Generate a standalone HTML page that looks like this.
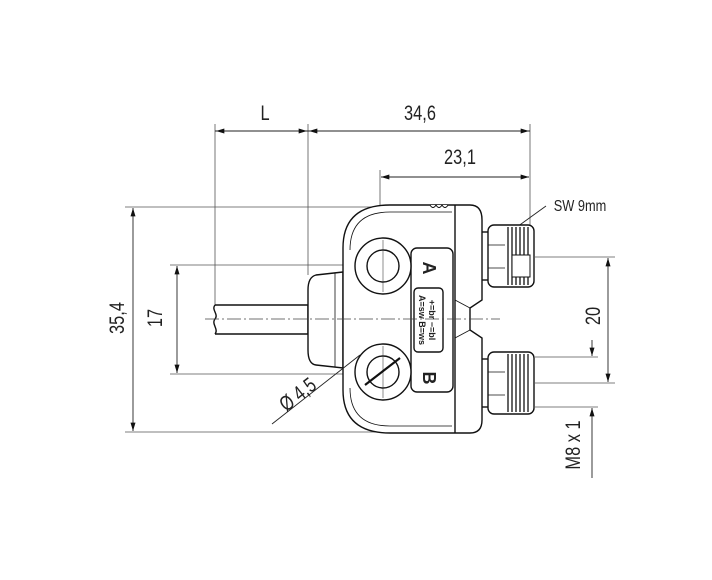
<!DOCTYPE html>
<html><head><meta charset="utf-8"><style>
html,body{margin:0;padding:0;background:#fff;width:712px;height:580px;overflow:hidden}
svg text{font-family:"Liberation Sans Narrow","Liberation Sans",sans-serif;fill:#222}
</style></head><body>
<svg width="712" height="580" viewBox="0 0 712 580" xmlns="http://www.w3.org/2000/svg">
<defs>
<marker id="a" viewBox="0 0 10 6" refX="10" refY="3" markerWidth="14" markerHeight="5" markerUnits="userSpaceOnUse" orient="auto-start-reverse"><path d="M0,0L10,3L0,6z" fill="#111"/></marker>
</defs>
<g stroke="#555" stroke-width="0.8" fill="none">
<line x1="215" y1="124" x2="215" y2="306"/>
<line x1="308" y1="124" x2="308" y2="275"/>
<line x1="530" y1="124" x2="530" y2="228"/>
<line x1="380" y1="170" x2="380" y2="242"/>
<line x1="125" y1="207" x2="460" y2="207"/>
<line x1="125" y1="432" x2="460" y2="432"/>
<line x1="170" y1="265" x2="383" y2="265"/>
<line x1="170" y1="374" x2="383" y2="374"/>
<line x1="535" y1="257" x2="615" y2="257"/>
<line x1="535" y1="383" x2="615" y2="383"/>
<line x1="535" y1="357" x2="598" y2="357"/>
<line x1="535" y1="407" x2="598" y2="407"/>
</g>
<g stroke="#222" stroke-width="0.9" fill="none">
<line x1="215" y1="131" x2="530" y2="131"/>
<line x1="232" y1="131" x2="216" y2="131" marker-end="url(#a)"/>
<line x1="292" y1="131" x2="307" y2="131" marker-end="url(#a)"/>
<line x1="325" y1="131" x2="309" y2="131" marker-end="url(#a)"/>
<line x1="510" y1="131" x2="529" y2="131" marker-end="url(#a)"/>
<line x1="381" y1="177" x2="529" y2="177" marker-start="url(#a)" marker-end="url(#a)"/>
<line x1="133" y1="208" x2="133" y2="431" marker-start="url(#a)" marker-end="url(#a)"/>
<line x1="177" y1="266" x2="177" y2="373" marker-start="url(#a)" marker-end="url(#a)"/>
<line x1="608" y1="258" x2="608" y2="382" marker-start="url(#a)" marker-end="url(#a)"/>
<line x1="592" y1="478" x2="592" y2="408" marker-end="url(#a)"/>
<line x1="592" y1="340" x2="592" y2="356" marker-end="url(#a)"/>
<line x1="510" y1="232" x2="546" y2="206"/>
</g>
<g stroke="#111" stroke-width="1.4" fill="#fff">
<path d="M215,305 L308,305 L308,334 L215,334" fill="#fff"/>
<path d="M215,305 C211,310 219,314 215,319 C211,324 219,329 215,334" fill="none"/>
<path d="M343,272 L316,275 Q308,277 308,290 L308,350 Q308,364 316,365 L343,368 Z"/>
<line x1="335" y1="273" x2="335" y2="367" stroke-width="0.8"/>
<path d="M390,205 L470,205 Q482,205 482,220 L482,300 L470,308 L470,330 L482,338 L482,420 Q482,433 470,433 L390,433 Q343,433 343,390 L343,248 Q343,205 390,205 Z"/>
<line x1="455" y1="205" x2="455" y2="433"/>
<path d="M350,250 Q350,212 390,212 L452,212" fill="none" stroke-width="0.8"/>
<path d="M350,388 Q350,426 390,426 L452,426" fill="none" stroke-width="0.8"/>
<path d="M430,205 q3,5 6,0 q3,5 6,0 q3,5 6,0" fill="#fff" stroke-width="1"/>
<path d="M455,300 L470,308 L470,330 L455,338" fill="none" stroke-width="0.8"/>
<rect x="411" y="248" width="42" height="144" rx="6"/>
<rect x="414" y="288" width="29" height="64" rx="4"/>
<circle cx="383" cy="266" r="28"/>
<circle cx="383" cy="266" r="16"/>
<circle cx="383" cy="372" r="28"/>
<circle cx="383" cy="372" r="16"/>
<rect x="488" y="225" width="46" height="62" rx="6"/>
<rect x="488" y="352" width="46" height="62" rx="6"/>
<line x1="482" y1="232" x2="488" y2="232"/><line x1="482" y1="280" x2="488" y2="280"/>
<line x1="482" y1="359" x2="488" y2="359"/><line x1="482" y1="407" x2="488" y2="407"/>
</g>
<g stroke="#111" stroke-width="1.3">
<line x1="508" y1="227" x2="508" y2="285"/><line x1="512" y1="227" x2="512" y2="285"/><line x1="516" y1="227" x2="516" y2="285"/><line x1="520" y1="227" x2="520" y2="285"/><line x1="524" y1="227" x2="524" y2="285"/><line x1="528" y1="227" x2="528" y2="285"/>
<line x1="508" y1="354" x2="508" y2="412"/><line x1="512" y1="354" x2="512" y2="412"/><line x1="516" y1="354" x2="516" y2="412"/><line x1="520" y1="354" x2="520" y2="412"/><line x1="524" y1="354" x2="524" y2="412"/><line x1="528" y1="354" x2="528" y2="412"/>
</g>
<rect x="512" y="255" width="18" height="22" fill="#fff" stroke="#111"/>
<g stroke="#111" stroke-width="0.8"><line x1="488" y1="245" x2="505" y2="245"/><line x1="488" y1="268" x2="505" y2="268"/><line x1="488" y1="372" x2="505" y2="372"/><line x1="488" y1="395" x2="505" y2="395"/></g>
<!-- overlays -->
<line x1="205" y1="319" x2="500" y2="319" stroke="#444" stroke-width="0.7" stroke-dasharray="14,3,2,3"/>
<line x1="383" y1="240" x2="383" y2="292" stroke="#444" stroke-width="0.6"/>
<line x1="383" y1="346" x2="383" y2="398" stroke="#444" stroke-width="0.6"/>
<line x1="272" y1="424" x2="360" y2="355" stroke="#222" stroke-width="0.9"/>
<line x1="365" y1="385" x2="400" y2="358" stroke="#111" stroke-width="2.2"/>
<!-- text -->
<g font-size="21">
<text transform="translate(265,120) scale(0.78,1)" text-anchor="middle">L</text>
<text transform="translate(420,120) scale(0.78,1)" text-anchor="middle">34,6</text>
<text transform="translate(460,164) scale(0.78,1)" text-anchor="middle">23,1</text>
<text transform="translate(124,318) rotate(-90) scale(0.78,1)" text-anchor="middle">35,4</text>
<text transform="translate(162,318) rotate(-90) scale(0.78,1)" text-anchor="middle">17</text>
<text transform="translate(600,316) rotate(-90) scale(0.78,1)" text-anchor="middle">20</text>
<text transform="translate(580,445) rotate(-90) scale(0.78,1)" text-anchor="middle">M8 x 1</text>
<text transform="translate(302,400) rotate(-38) scale(0.78,1)" text-anchor="middle">Ø 4,5</text>
</g>
<text transform="translate(580,211) scale(0.8,1)" font-size="16" text-anchor="middle">SW 9mm</text>
<text transform="translate(423,268) rotate(90)" font-size="18" font-weight="bold" text-anchor="middle">A</text>
<text transform="translate(423,378) rotate(90)" font-size="18" font-weight="bold" text-anchor="middle">B</text>
<text transform="translate(419,320) rotate(90)" font-size="9" font-weight="bold" text-anchor="middle">A=sw B=ws</text>
<text transform="translate(429,320) rotate(90)" font-size="9" font-weight="bold" text-anchor="middle">+=br  −=bl</text>
</svg>
</body></html>
